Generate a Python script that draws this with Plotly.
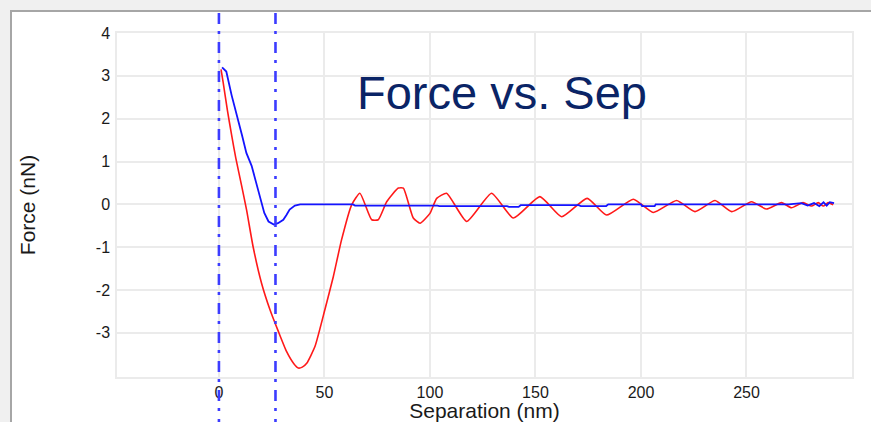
import plotly.graph_objects as go

# ---- data ----
red_x = [1.0, 2.0, 4.0, 6.0, 8.0, 10.7, 13.1, 16.2, 20.2, 24.2, 28.2, 32.1, 35.5,
         37.6, 39.5, 41.6, 45.5, 50.2, 54.2, 58.1, 62.9, 66.8, 72.4, 75.5, 79.5, 85.0,
         87.4, 92.1, 95.3, 100.0, 103.2, 107.9, 117.4, 129.2, 139.5, 152.1, 162.4, 174.5,
         183.7, 196.4, 205.8, 216.9, 225.6, 235.1, 243.0, 252.4, 259.5, 266.6, 271.3,
         276.8, 280.8, 284.0, 286.4, 288.7, 291.1]
red_y = [3.15, 2.85, 2.20, 1.62, 1.08, 0.45, -0.13, -0.99, -1.84, -2.46, -2.97, -3.44, -3.72,
         -3.82, -3.80, -3.71, -3.32, -2.46, -1.69, -0.83, -0.01, 0.26, -0.36, -0.36, 0.06, 0.38,
         0.38, -0.32, -0.44, -0.21, 0.14, 0.26, -0.40, 0.26, -0.32, 0.18, -0.29, 0.14,
         -0.25, 0.12, -0.19, 0.09, -0.17, 0.09, -0.17, 0.06, -0.11, 0.04, -0.08,
         0.04, -0.04, 0.04, -0.04, 0.04, -0.01]

blue_x = [1.5, 3.5, 6.0, 8.5, 11.0, 13.0, 15.5, 18.5, 21.5, 23.5, 26.0, 28.0, 30.5, 32.0,
          33.5, 36.0, 38.5, 63.5, 64.5, 103.5, 104.5, 136.5, 137.5, 142.0, 143.0, 170.5,
          171.5, 183.5, 184.5, 200.0, 200.5, 206.5, 207.0, 270.0, 276.0, 279.0, 282.0,
          284.5, 286.5, 288.0, 289.5, 291.5]
blue_y = [3.20, 3.10, 2.55, 2.10, 1.60, 1.20, 0.90, 0.35, -0.20, -0.40, -0.47, -0.44, -0.36, -0.25,
          -0.12, -0.03, 0.00, 0.00, -0.03, -0.03, -0.04, -0.04, -0.06, -0.06, -0.02, -0.02,
          -0.04, -0.04, 0.00, 0.00, -0.04, -0.04, 0.00, 0.00, 0.03, -0.03, 0.03,
          -0.04, 0.05, -0.03, 0.05, 0.03]

marker_lines_x = [0.0, 26.8]
x_ticks = [0, 50, 100, 150, 200, 250]
y_ticks = [-3, -2, -1, 0, 1, 2, 3, 4]
title_text = "Force vs. Sep"
x_title = "Separation (nm)"
y_title = "Force (nN)"

GRID = "#ebebeb"
FONT = "Liberation Sans, Arial, sans-serif"

fig = go.Figure()
fig.add_trace(go.Scatter(x=red_x, y=red_y, mode="lines",
                         line=dict(color="rgb(255,25,25)", width=1.6, shape="spline", smoothing=0.5),
                         hoverinfo="skip"))
fig.add_trace(go.Scatter(x=blue_x, y=blue_y, mode="lines",
                         line=dict(color="rgb(20,20,255)", width=1.8), hoverinfo="skip"))

shapes = [
    # outer window frame (light grey surround, grey left/top edge)
    dict(type="rect", xref="paper", yref="paper", layer="below",
         x0=(11 - 117) / 735, x1=1.2, y0=-0.3, y1=(377 - 11) / 344,
         fillcolor="white", line=dict(color="#a6a6a6", width=2)),
]
for xv in marker_lines_x:
    shapes.append(dict(type="line", xref="x", yref="paper", x0=xv, x1=xv,
                       y0=(377 - 13) / 344, y1=-0.2, layer="above",
                       line=dict(color="rgb(60,60,255)", width=2.6, dash="11px,7px,3px,8px")))

fig.update_layout(
    width=871, height=422,
    margin=dict(l=117, r=19, t=33, b=45, pad=0),
    paper_bgcolor="#f0f0f0", plot_bgcolor="white",
    showlegend=False,
    font=dict(family=FONT, color="#1a1a1a", size=16),
    shapes=shapes,
    annotations=[dict(text=title_text, xref="paper", yref="paper",
                      x=(355 - 117) / 735, y=(377 - 92) / 344,
                      xanchor="left", yanchor="middle", showarrow=False,
                      font=dict(family=FONT, size=47, color="#0a2466"))],
)
fig.update_xaxes(range=[-48.3, 300], tickvals=x_ticks, ticktext=[str(v) for v in x_ticks],
                 showgrid=True, gridcolor=GRID, gridwidth=1.5, zeroline=False,
                 showline=True, linecolor=GRID, linewidth=1.5, mirror=True, ticks="",
                 tickfont=dict(size=16), ticklabelstandoff=0, automargin=False,
                 title=dict(text=x_title, font=dict(size=21), standoff=9))
fig.update_yaxes(range=[-4.03, 4], tickvals=y_ticks, ticktext=[str(v) for v in y_ticks],
                 showgrid=True, gridcolor=GRID, gridwidth=1.5, zeroline=False,
                 showline=True, linecolor=GRID, linewidth=1.5, mirror=True, ticks="",
                 tickfont=dict(size=16), ticklabelstandoff=2, automargin=False,
                 title=dict(text=y_title, font=dict(size=21), standoff=54))

fig.write_html("out.html", config={"displayModeBar": False},
               post_script="document.body.style.margin='0px';document.body.style.overflow='hidden';")
